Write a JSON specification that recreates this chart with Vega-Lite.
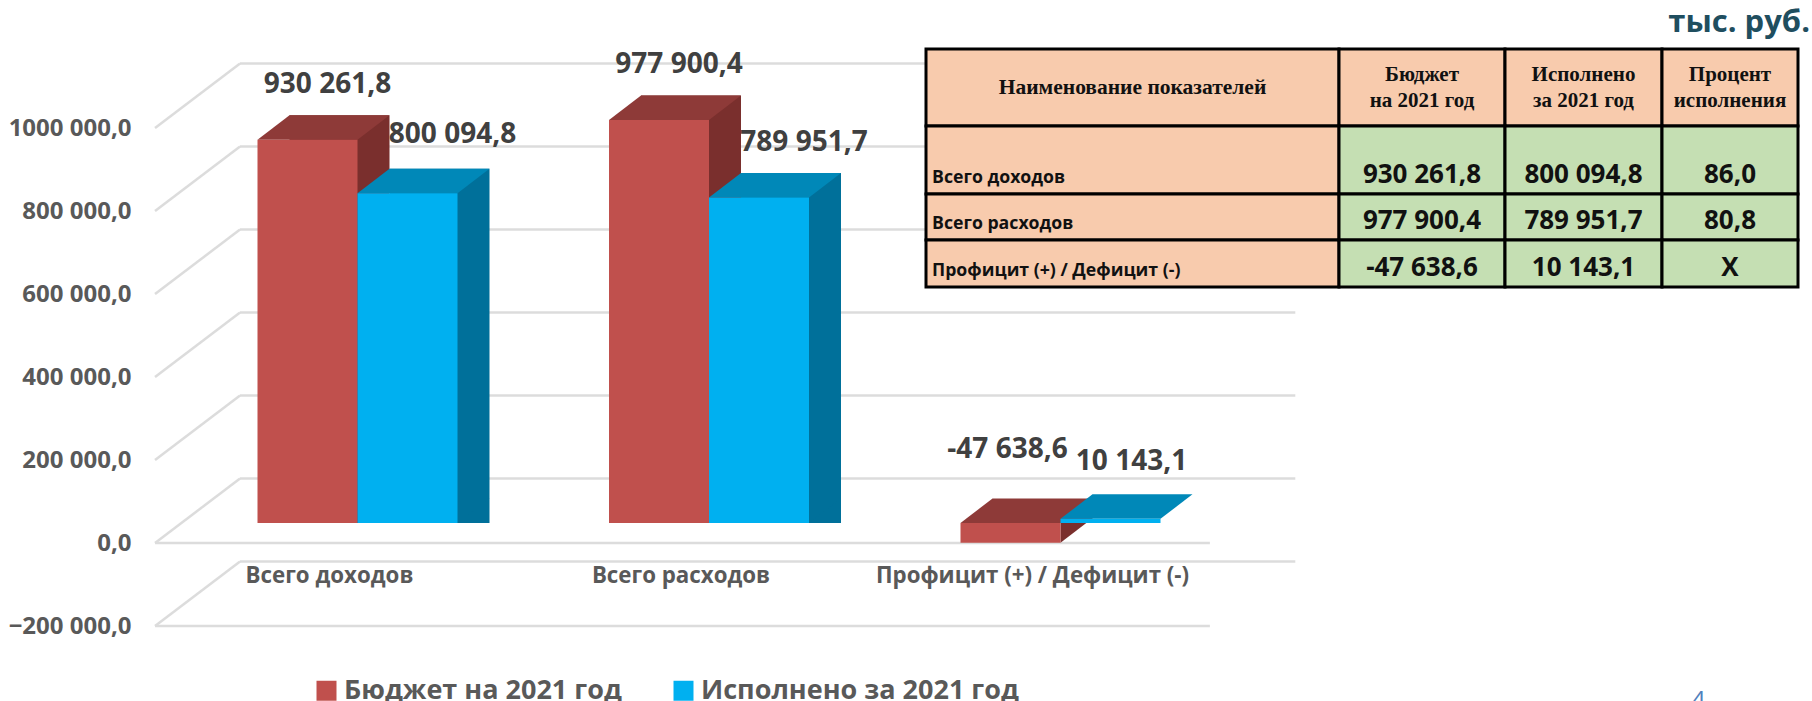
{"$schema":"https://vega.github.io/schema/vega-lite/v6.json","width":1812,"height":701,"autosize":{"type":"fit","contains":"padding"},"padding":0,"background":"white","config":{"view":{"stroke":null},"font":"Open Sans"},
"datasets":{
"bars":[
{"category":"Всего доходов","series":"Бюджет на 2021 год","value":930261.8,"label":"930 261,8"},
{"category":"Всего доходов","series":"Исполнено за 2021 год","value":800094.8,"label":"800 094,8"},
{"category":"Всего расходов","series":"Бюджет на 2021 год","value":977900.4,"label":"977 900,4"},
{"category":"Всего расходов","series":"Исполнено за 2021 год","value":789951.7,"label":"789 951,7"},
{"category":"Профицит (+) / Дефицит (-)","series":"Бюджет на 2021 год","value":-47638.6,"label":"-47 638,6"},
{"category":"Профицит (+) / Дефицит (-)","series":"Исполнено за 2021 год","value":10143.1,"label":"10 143,1"}],
"ticks":[{"tick":-200000},{"tick":0},{"tick":200000},{"tick":400000},{"tick":600000},{"tick":800000},{"tick":1000000}],
"table":[
{"kind":"head","col":0,"colEnd":1,"colMid":0.5,"row":0,"rowEnd":1,"rowMid":0.5,"text":"Наименование показателей"},
{"kind":"head","col":1,"colEnd":2,"colMid":1.5,"row":0,"rowEnd":1,"rowMid":0.5,"text":"Бюджет\nна 2021 год"},
{"kind":"head","col":2,"colEnd":3,"colMid":2.5,"row":0,"rowEnd":1,"rowMid":0.5,"text":"Исполнено\nза 2021 год"},
{"kind":"head","col":3,"colEnd":4,"colMid":3.5,"row":0,"rowEnd":1,"rowMid":0.5,"text":"Процент\nисполнения"},
{"kind":"name","col":0,"colEnd":1,"colMid":0.5,"row":1,"rowEnd":2,"rowMid":1.5,"text":"Всего доходов"},
{"kind":"num","col":1,"colEnd":2,"colMid":1.5,"row":1,"rowEnd":2,"rowMid":1.5,"text":"930 261,8"},
{"kind":"num","col":2,"colEnd":3,"colMid":2.5,"row":1,"rowEnd":2,"rowMid":1.5,"text":"800 094,8"},
{"kind":"num","col":3,"colEnd":4,"colMid":3.5,"row":1,"rowEnd":2,"rowMid":1.5,"text":"86,0"},
{"kind":"name","col":0,"colEnd":1,"colMid":0.5,"row":2,"rowEnd":3,"rowMid":2.5,"text":"Всего расходов"},
{"kind":"num","col":1,"colEnd":2,"colMid":1.5,"row":2,"rowEnd":3,"rowMid":2.5,"text":"977 900,4"},
{"kind":"num","col":2,"colEnd":3,"colMid":2.5,"row":2,"rowEnd":3,"rowMid":2.5,"text":"789 951,7"},
{"kind":"num","col":3,"colEnd":4,"colMid":3.5,"row":2,"rowEnd":3,"rowMid":2.5,"text":"80,8"},
{"kind":"name","col":0,"colEnd":1,"colMid":0.5,"row":3,"rowEnd":4,"rowMid":3.5,"text":"Профицит (+) / Дефицит (-)"},
{"kind":"num","col":1,"colEnd":2,"colMid":1.5,"row":3,"rowEnd":4,"rowMid":3.5,"text":"-47 638,6"},
{"kind":"num","col":2,"colEnd":3,"colMid":2.5,"row":3,"rowEnd":4,"rowMid":3.5,"text":"10 143,1"},
{"kind":"num","col":3,"colEnd":4,"colMid":3.5,"row":3,"rowEnd":4,"rowMid":3.5,"text":"Х"},
{"kind":"unit","col":4,"colEnd":4,"colMid":4,"row":0,"rowEnd":0,"rowMid":0,"text":"тыс. руб."},
{"kind":"page","col":3.27,"colEnd":3.27,"colMid":3.27,"row":5,"rowEnd":5,"rowMid":5,"text":"4"}]
},
"resolve":{"scale":{"x":"independent","y":"independent","color":"independent"}},
"layer":[
{"data":{"name":"ticks"},
 "encoding":{"y":{"field":"tick","type":"quantitative","scale":{"domain":[-380723,1308434],"range":[701,0],"nice":false,"zero":false},
   "axis":{"title":null,"orient":"left","offset":-131,"values":[-200000,0,200000,400000,600000,800000,1000000],"domain":false,"ticks":false,"grid":false,"labelPadding":0,"labelFont":"Open Sans","labelFontWeight":"bold","labelFontSize":24,"labelColor":"#595959","labelLimit":0,"labelOverlap":false,"labelExpr":"datum.value==1000000?'1000 000,0':replace(replace(format(datum.value,',.1f'),',',' '),'.',',')"}}},
 "layer":[
  {"mark":{"type":"rule","color":"#DCDCDC","strokeWidth":2.5,"yOffset":-64.5},
   "encoding":{"x":{"datum":0.1657,"type":"quantitative","scale":{"domain":[-0.51707,4.638],"range":[0,1812],"nice":false,"zero":false},"axis":null},"x2":{"datum":3.168}}},
  {"transform":[{"filter":"datum.tick<=0"}],"mark":{"type":"rule","color":"#DCDCDC","strokeWidth":2.5},
   "encoding":{"x":{"datum":-0.076,"type":"quantitative","scale":{"domain":[-0.51707,4.638],"range":[0,1812],"nice":false,"zero":false},"axis":null},"x2":{"datum":2.925}}},
  {"mark":{"type":"point","shape":"M0 0L85 -64.5","filled":false,"size":4,"stroke":"#DCDCDC","strokeWidth":2.5,"opacity":1},
   "encoding":{"x":{"datum":-0.076,"type":"quantitative","scale":{"domain":[-0.51707,4.638],"range":[0,1812],"nice":false,"zero":false},"axis":null}}}
 ]},
{"data":{"name":"bars"},
 "resolve":{"scale":{"xOffset":"independent"}},
 "encoding":{
  "x":{"field":"category","type":"nominal","sort":null,"scale":{"type":"band","domain":["Всего доходов","Всего расходов","Профицит (+) / Дефицит (-)"],"range":[181.75,1236.25],"paddingInner":0,"paddingOuter":0},
   "axis":{"title":null,"orient":"bottom","offset":-125,"domain":false,"ticks":false,"grid":false,"labelAngle":0,"labelOffset":-28,"labelPadding":0,"labelFont":"Open Sans","labelFontWeight":"bold","labelFontSize":22.3,"labelColor":"#595959","labelLimit":0,"labelOverlap":false}},
  "xOffset":{"field":"series","type":"nominal","scale":{"type":"band","domain":["Бюджет на 2021 год","Исполнено за 2021 год"],"range":[75.75,275.75],"paddingInner":0,"paddingOuter":0}},
  "y":{"field":"value","type":"quantitative","stack":null,"scale":{"domain":[-432039,1269417],"range":[701,0],"nice":false,"zero":false},"axis":null}},
 "layer":[
  {"transform":[{"filter":"datum.series=='Бюджет на 2021 год'"}],"mark":{"type":"bar","color":"#7A2F2D","yOffset":-24.5,"y2Offset":-24.5},"encoding":{"xOffset":{"field":"series","type":"nominal","scale":{"type":"band","domain":["Бюджет на 2021 год","Исполнено за 2021 год"],"range":[107.75,307.75],"paddingInner":0,"paddingOuter":0}}}},
  {"transform":[{"filter":"datum.series=='Бюджет на 2021 год'&&datum.value>=0"}],"mark":{"type":"point","shape":"M1 0L1.64 -0.49L1 -0.49Z","filled":true,"size":10000,"color":"#7A2F2D","opacity":1},"encoding":{"y":{"datum":0,"type":"quantitative"}}},
  {"transform":[{"filter":"datum.series=='Бюджет на 2021 год'&&datum.value<0"}],"mark":{"type":"point","shape":"M1 0L1.64 -0.49L1 -0.49Z","filled":true,"size":10000,"color":"#7A2F2D","opacity":1}},
  {"transform":[{"filter":"datum.series=='Бюджет на 2021 год'&&datum.value>=0"}],"mark":{"type":"point","shape":"M-1 0L1 0L1.64 -0.49L-0.36 -0.49Z","filled":true,"size":10000,"color":"#8E3A38","opacity":1}},
  {"transform":[{"filter":"datum.series=='Бюджет на 2021 год'&&datum.value<0"}],"mark":{"type":"point","shape":"M-1 0L1 0L1.64 -0.49L-0.36 -0.49Z","filled":true,"size":10000,"color":"#8E3A38","opacity":1},"encoding":{"y":{"datum":0,"type":"quantitative"}}},
  {"transform":[{"filter":"datum.series=='Бюджет на 2021 год'"}],"mark":{"type":"bar"},
   "encoding":{"color":{"field":"series","type":"nominal","scale":{"domain":["Бюджет на 2021 год","Исполнено за 2021 год"],"range":["#C0504D","#00B0F0"]},
     "legend":{"title":null,"orient":"none","legendX":313,"legendY":677,"direction":"horizontal","symbolType":"square","symbolSize":400,"symbolOpacity":1,"labelFont":"Open Sans","labelFontWeight":"bold","labelFontSize":27,"labelColor":"#595959","labelLimit":0,"columnPadding":48,"padding":0}}}},
  {"transform":[{"filter":"datum.series=='Исполнено за 2021 год'&&datum.value>100000"}],"mark":{"type":"bar","color":"#00709A","yOffset":-24.5,"y2Offset":-24.5},"encoding":{"xOffset":{"field":"series","type":"nominal","scale":{"type":"band","domain":["Бюджет на 2021 год","Исполнено за 2021 год"],"range":[107.75,307.75],"paddingInner":0,"paddingOuter":0}}}},
  {"transform":[{"filter":"datum.series=='Исполнено за 2021 год'&&datum.value>100000"}],"mark":{"type":"point","shape":"M1 0L1.64 -0.49L1 -0.49Z","filled":true,"size":10000,"color":"#00709A","opacity":1},"encoding":{"y":{"datum":0,"type":"quantitative"}}},
  {"transform":[{"filter":"datum.series=='Исполнено за 2021 год'"}],"mark":{"type":"point","shape":"M-1 0L1 0L1.64 -0.49L-0.36 -0.49Z","filled":true,"size":10000,"color":"#0088B8","opacity":1}},
  {"transform":[{"filter":"datum.series=='Исполнено за 2021 год'"}],"mark":{"type":"bar"},
   "encoding":{"color":{"field":"series","type":"nominal","scale":{"domain":["Бюджет на 2021 год","Исполнено за 2021 год"],"range":["#C0504D","#00B0F0"]}}}},
  {"transform":[{"filter":"datum.series=='Бюджет на 2021 год'&&datum.value>=0"}],"mark":{"type":"text","font":"Open Sans","fontWeight":"bold","fontSize":28,"color":"#404040","dx":20,"dy":-55,"baseline":"middle"},"encoding":{"text":{"field":"label"}}},
  {"transform":[{"filter":"datum.series=='Исполнено за 2021 год'&&datum.value>795000"}],"mark":{"type":"text","font":"Open Sans","fontWeight":"bold","fontSize":28,"color":"#404040","dx":45,"dy":-58,"baseline":"middle"},"encoding":{"text":{"field":"label"}}},
  {"transform":[{"filter":"datum.series=='Исполнено за 2021 год'&&datum.value>100000&&datum.value<795000"}],"mark":{"type":"text","font":"Open Sans","fontWeight":"bold","fontSize":28,"color":"#404040","dx":45,"dy":-55,"baseline":"middle"},"encoding":{"text":{"field":"label"}}},
  {"transform":[{"filter":"datum.value<0"}],"mark":{"type":"text","font":"Open Sans","fontWeight":"bold","fontSize":28,"color":"#404040","dx":-3,"dy":-93,"baseline":"middle"},"encoding":{"text":{"field":"label"}}},
  {"transform":[{"filter":"datum.value>0&&datum.value<100000"}],"mark":{"type":"text","font":"Open Sans","fontWeight":"bold","fontSize":28,"color":"#404040","dx":21,"dy":-57,"baseline":"middle"},"encoding":{"text":{"field":"label"}}}
 ]},
{"data":{"name":"table"},
 "encoding":{
  "x":{"field":"col","type":"quantitative","scale":{"domain":[0,1,2,3,4,5],"range":[926,1339,1505,1662,1798,1812],"nice":false,"zero":false},"axis":null},
  "y":{"field":"row","type":"quantitative","scale":{"domain":[0,1,2,3,4,5],"range":[49,126,194,240,287,701],"nice":false,"zero":false},"axis":null}},
 "layer":[
  {"transform":[{"filter":"datum.kind=='head'||datum.kind=='name'"}],"mark":{"type":"rect","color":"#F8CBAD","stroke":"black","strokeWidth":3},"encoding":{"x2":{"field":"colEnd"},"y2":{"field":"rowEnd"}}},
  {"transform":[{"filter":"datum.kind=='num'"}],"mark":{"type":"rect","color":"#C5DFB3","stroke":"black","strokeWidth":3},"encoding":{"x2":{"field":"colEnd"},"y2":{"field":"rowEnd"}}},
  {"transform":[{"filter":"datum.kind=='head'&&datum.col==0"}],"mark":{"type":"text","font":"Liberation Serif","fontWeight":"bold","fontSize":21.5,"color":"#111111","baseline":"middle"},"encoding":{"x":{"field":"colMid","type":"quantitative"},"y":{"field":"rowMid","type":"quantitative"},"text":{"field":"text"}}},
  {"transform":[{"filter":"datum.kind=='head'&&datum.col>0"}],"mark":{"type":"text","font":"Liberation Serif","fontWeight":"bold","fontSize":21,"color":"#111111","lineBreak":"\n","lineHeight":26,"baseline":"middle","dy":-13},"encoding":{"x":{"field":"colMid","type":"quantitative"},"y":{"field":"rowMid","type":"quantitative"},"text":{"field":"text"}}},
  {"transform":[{"filter":"datum.kind=='name'"}],"mark":{"type":"text","font":"Open Sans","fontWeight":"bold","fontSize":17.7,"color":"#111111","align":"left","dx":6,"dy":-16,"baseline":"middle"},"encoding":{"y":{"field":"rowEnd","type":"quantitative"},"text":{"field":"text"}}},
  {"transform":[{"filter":"datum.kind=='num'"}],"mark":{"type":"text","font":"Open Sans","fontWeight":"bold","fontSize":26,"color":"#111111","dy":-19,"baseline":"middle"},"encoding":{"x":{"field":"colMid","type":"quantitative"},"y":{"field":"rowEnd","type":"quantitative"},"text":{"field":"text"}}},
  {"transform":[{"filter":"datum.kind=='unit'"}],"mark":{"type":"text","font":"Open Sans","fontWeight":"bold","fontSize":31,"color":"#1F4E5F","align":"right","baseline":"middle","dx":12,"dy":-26},"encoding":{"text":{"field":"text"}}},
  {"transform":[{"filter":"datum.kind=='page'"}],"mark":{"type":"text","font":"Open Sans","fontSize":24,"color":"#4F81BD","baseline":"top","dy":-12},"encoding":{"text":{"field":"text"}}}
 ]}
]}
